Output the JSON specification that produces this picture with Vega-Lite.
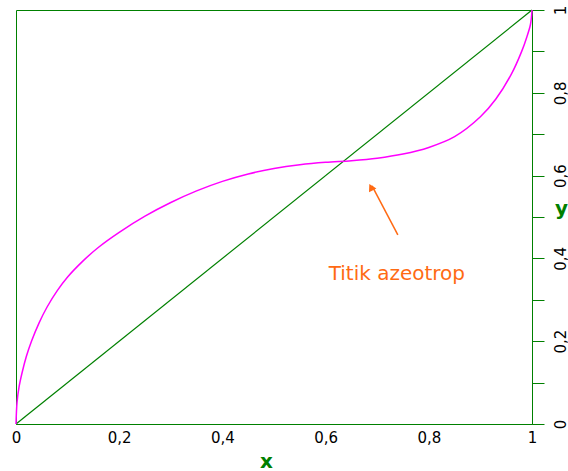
{
  "$schema": "https://vega.github.io/schema/vega-lite/v6.json",
  "width": 516,
  "height": 414,
  "autosize": {"type": "none"},
  "padding": {"left": 16, "top": 10, "right": 36, "bottom": 47},
  "background": "white",
  "config": {
    "view": {"stroke": "#008000", "strokeWidth": 1},
    "font": "DejaVu Sans"
  },
  "datasets": {
    "curve": [
      {"x": 0, "y": 0},
      {"x": 0.002, "y": 0.052},
      {"x": 0.006, "y": 0.09},
      {"x": 0.012, "y": 0.125},
      {"x": 0.02, "y": 0.163},
      {"x": 0.03, "y": 0.2},
      {"x": 0.045, "y": 0.245},
      {"x": 0.06, "y": 0.282},
      {"x": 0.08, "y": 0.322},
      {"x": 0.1, "y": 0.355},
      {"x": 0.13, "y": 0.394},
      {"x": 0.16, "y": 0.427},
      {"x": 0.2, "y": 0.463},
      {"x": 0.25, "y": 0.502},
      {"x": 0.3, "y": 0.535},
      {"x": 0.35, "y": 0.563},
      {"x": 0.4, "y": 0.586},
      {"x": 0.45, "y": 0.604},
      {"x": 0.5, "y": 0.617},
      {"x": 0.55, "y": 0.626},
      {"x": 0.6, "y": 0.632},
      {"x": 0.65, "y": 0.636},
      {"x": 0.7, "y": 0.642},
      {"x": 0.75, "y": 0.652},
      {"x": 0.8, "y": 0.668},
      {"x": 0.85, "y": 0.694},
      {"x": 0.9, "y": 0.742},
      {"x": 0.93, "y": 0.785},
      {"x": 0.96, "y": 0.845},
      {"x": 0.98, "y": 0.9},
      {"x": 0.99, "y": 0.935},
      {"x": 0.997, "y": 0.965},
      {"x": 1, "y": 1}
    ],
    "diag": [
      {"x": 0, "y": 0},
      {"x": 1, "y": 1}
    ],
    "arrow": [
      {"x": 0.74, "y": 0.457, "x2": 0.69, "y2": 0.575}
    ],
    "head": [
      {"x": 0.688, "y": 0.572}
    ],
    "label": [
      {"x": 0.738, "y": 0.362, "text": "Titik azeotrop"}
    ]
  },
  "encoding": {
    "x": {
      "field": "x",
      "type": "quantitative",
      "scale": {"domain": [0, 1], "nice": false},
      "axis": {
        "orient": "bottom",
        "title": "x",
        "titleColor": "#008000",
        "titleFontSize": 20,
        "titleFontWeight": "bold",
        "titleFont": "DejaVu Sans",
        "titleX": 250,
        "titleY": 37,
        "titleAlign": "center",
        "titleBaseline": "middle",
        "values": [0, 0.2, 0.4, 0.6, 0.8, 1],
        "labelExpr": "replace(format(datum.value, '.1~f'), '.', ',')",
        "labelColor": "black",
        "labelFontSize": 15,
        "labelPadding": 6,
        "labelFlush": false,
        "labelOverlap": false,
        "domainColor": "#008000",
        "domainWidth": 1,
        "ticks": false,
        "grid": false
      }
    },
    "y": {
      "field": "y",
      "type": "quantitative",
      "scale": {"domain": [0, 1], "nice": false},
      "axis": {
        "orient": "right",
        "title": "y",
        "titleColor": "#008000",
        "titleFontSize": 20,
        "titleFontWeight": "bold",
        "titleFont": "DejaVu Sans",
        "titleAngle": 0,
        "titleX": 29,
        "titleY": 198,
        "titleAlign": "center",
        "titleBaseline": "middle",
        "values": [0, 0.1, 0.2, 0.3, 0.4, 0.5, 0.6, 0.7, 0.8, 0.9, 1],
        "labelExpr": "round(datum.value * 10) % 2 == 0 ? replace(format(datum.value, '.1~f'), '.', ',') : ''",
        "labelAngle": 270,
        "labelAlign": "center",
        "labelBaseline": "top",
        "labelColor": "black",
        "labelFontSize": 15,
        "labelPadding": 9,
        "labelFlush": false,
        "labelOverlap": false,
        "tickSize": 12,
        "tickColor": "#008000",
        "tickWidth": 1,
        "domainColor": "#008000",
        "domainWidth": 1,
        "grid": false
      }
    }
  },
  "layer": [
    {
      "data": {"name": "diag"},
      "mark": {"type": "line", "color": "#008000", "strokeWidth": 1.2}
    },
    {
      "data": {"name": "curve"},
      "mark": {"type": "line", "color": "#ff00ff", "strokeWidth": 1.5, "interpolate": "catmull-rom"}
    },
    {
      "data": {"name": "arrow"},
      "mark": {"type": "rule", "color": "#ff6a13", "strokeWidth": 1.5},
      "encoding": {
        "x2": {"field": "x2"},
        "y2": {"field": "y2"}
      }
    },
    {
      "data": {"name": "head"},
      "mark": {"type": "point", "shape": "triangle-up", "filled": true, "color": "#ff6a13", "opacity": 1, "size": 70, "angle": 332}
    },
    {
      "data": {"name": "label"},
      "mark": {"type": "text", "color": "#ff6a13", "fontSize": 20, "font": "DejaVu Sans", "align": "center", "baseline": "middle"},
      "encoding": {
        "text": {"field": "text"}
      }
    }
  ]
}
